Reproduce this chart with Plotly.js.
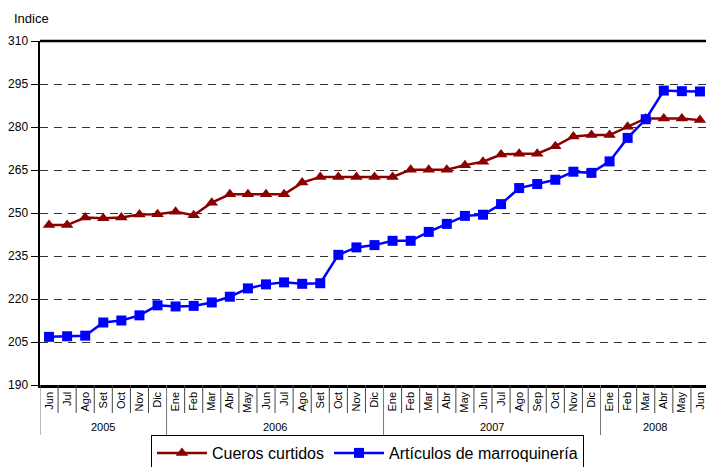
<!DOCTYPE html>
<html>
<head>
<meta charset="utf-8">
<script src="https://cdn.plot.ly/plotly-3.0.1.min.js"></script>
<style>
html,body{margin:0;padding:0;overflow:hidden;background:#fff;}
#chart{width:716px;height:467px;}
</style>
</head>
<body>
<div id="chart"></div>
<script>
const months = ['Jun','Jul','Ago','Set','Oct','Nov','Dic',
  'Ene','Feb','Mar','Abr','May','Jun','Jul','Ago','Set','Oct','Nov','Dic',
  'Ene','Feb','Mar','Abr','May','Jun','Jul','Ago','Sep','Oct','Nov','Dic',
  'Ene','Feb','Mar','Abr','May','Jun'];
const yearLabels = ['2005','2006','2007','2008'];
const monthsPerYear = [7, 12, 12, 6];

const cueros = [245.8,245.8,248.4,248.2,248.4,249.5,249.6,
  250.4,249.2,253.6,256.5,256.5,256.5,256.5,260.6,262.6,262.6,262.6,262.6,
  262.6,265.1,265.1,265.1,266.7,267.9,270.4,270.7,270.7,273.3,276.7,277.2,
  277.2,280.1,283.0,283.0,283.0,282.4];
const marroquineria = [206.8,207.0,207.2,211.8,212.5,214.3,217.8,
  217.4,217.6,218.8,220.8,223.7,225.1,225.8,225.3,225.5,235.4,238.0,238.8,
  240.3,240.3,243.4,246.2,249.0,249.4,253.1,258.7,260.1,261.6,264.4,264.0,
  268.0,276.2,282.7,292.7,292.5,292.4];
const yTicks = [190,205,220,235,250,265,280,295,310];

const idx = months.map((m,i)=>i);
const FONT = 'Liberation Sans, Arial, sans-serif';

const traces = [
  {x: idx, y: cueros, name: 'Cueros curtidos', type: 'scatter', mode: 'lines+markers',
   line: {color: '#8B0000', width: 2.5},
   marker: {symbol: 'triangle-up', size: 11, color: '#8B0000'}},
  {x: idx, y: marroquineria, name: 'Artículos de marroquinería', type: 'scatter', mode: 'lines+markers',
   line: {color: '#0000FF', width: 2.5},
   marker: {symbol: 'square', size: 10, color: '#0000FF'}}
];

const shapes = [];
const annotations = [];
const monthSepDepth = -28/344;
const yearSepDepth = -50/344;
let start = 0;
const yearStarts = new Set();
monthsPerYear.forEach((n, k) => {
  yearStarts.add(start);
  annotations.push({x: start + (n-1)/2, xref: 'x', y: -42/344, yref: 'paper',
    text: yearLabels[k], showarrow: false, font: {family: FONT, size: 11, color: '#000'},
    xanchor: 'center', yanchor: 'middle'});
  start += n;
});
for (let i = 0; i <= months.length; i++) {
  const isYear = yearStarts.has(i);
  shapes.push({type: 'line', xref: 'x', yref: 'paper', x0: i-0.5, x1: i-0.5,
    y0: 0, y1: isYear ? yearSepDepth : monthSepDepth,
    line: {color: isYear ? '#777' : '#444', width: 1}, layer: 'above'});
}
shapes.push({type: 'line', xref: 'paper', yref: 'paper', x0: 0, x1: 1, y0: 1, y1: 1,
  line: {color: '#000', width: 2.5}});

annotations.push({xref: 'paper', x: (12-40)/669, xanchor: 'left',
  yref: 'paper', y: 1 + (41-18)/344, yanchor: 'middle',
  text: 'Indice', showarrow: false, font: {family: FONT, size: 13, color: '#000'}});

const layout = {
  width: 716, height: 467,
  margin: {l: 40, r: 7, t: 41, b: 82, autoexpand: false},
  paper_bgcolor: '#fff', plot_bgcolor: '#fff',
  font: {family: FONT, size: 12, color: '#000'},
  showlegend: true,
  legend: {orientation: 'h', x: 0.4895, xanchor: 'center', y: -50/344, yanchor: 'top',
    bordercolor: '#000', borderwidth: 1, bgcolor: '#fff',
    font: {family: FONT, size: 16, color: '#000'}, itemwidth: 50, tracegroupgap: 0},
  xaxis: {range: [-0.5, months.length - 0.5], tickmode: 'array', tickvals: idx, ticktext: months,
    tickangle: -90, ticks: '', showgrid: false, zeroline: false,
    showline: true, linecolor: '#000', linewidth: 2.5,
    tickfont: {family: FONT, size: 11, color: '#000'}, fixedrange: true, automargin: false},
  yaxis: {range: [190, 310], tickmode: 'array', tickvals: yTicks,
    ticks: 'outside', ticklen: 7, tickcolor: '#000', tickwidth: 1,
    showline: true, linecolor: '#000', linewidth: 2.5,
    showgrid: true, gridcolor: '#333', griddash: '8px,6px', gridwidth: 1,
    zeroline: false, tickfont: {family: FONT, size: 12, color: '#000'}, fixedrange: true, automargin: false},
  shapes: shapes,
  annotations: annotations
};

Plotly.newPlot('chart', traces, layout, {displayModeBar: false, staticPlot: true});
</script>
</body>
</html>
